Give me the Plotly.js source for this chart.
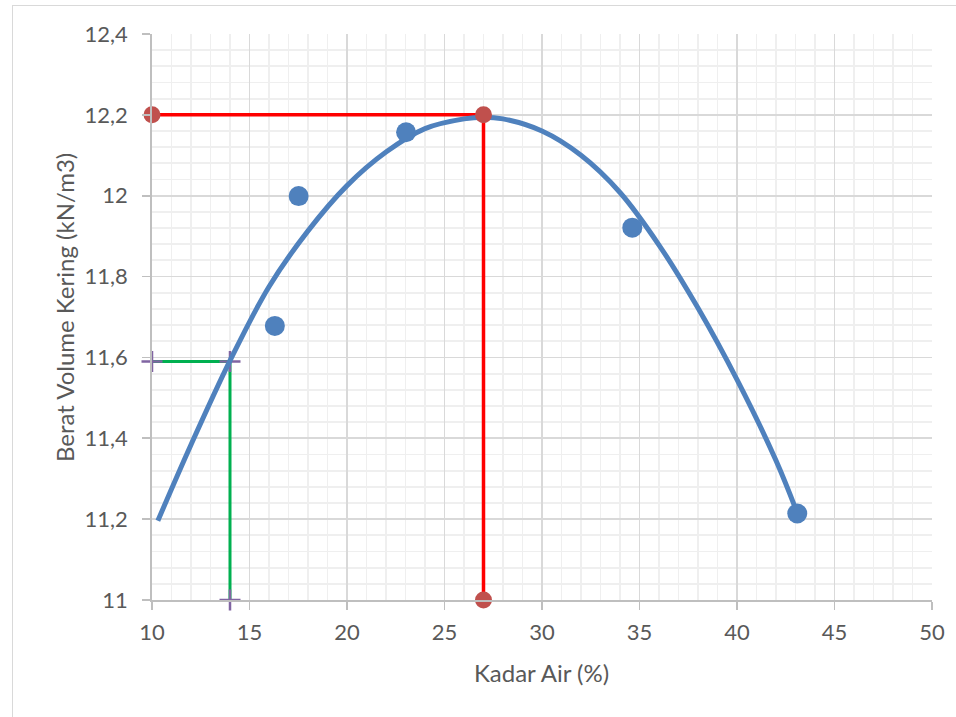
<!DOCTYPE html>
<html>
<head>
<meta charset="utf-8">
<script src="https://cdn.plot.ly/plotly-3.0.1.min.js"></script>
<style>
  html, body { margin: 0; padding: 0; background: #ffffff; overflow: hidden; }
  #wrap { position: relative; width: 956px; height: 717px; }
  #chart { width: 956px; height: 717px; }
  #frame { position: absolute; left: 12px; top: 5px; width: 2000px; height: 2000px;
           border: 1px solid #d9d9d9; pointer-events: none; }
</style>
</head>
<body>
<div id="wrap">
  <div id="chart"></div>
  <div id="frame"></div>
</div>
<script>
// Measured data points (Kadar Air %, Berat Volume Kering kN/m3)
const kadarAir = [16.3, 17.52, 23.03, 34.63, 43.09];
const beratVolume = [11.678, 11.999, 12.157, 11.921, 11.214];

// Trendline
const trendX = [10.3, 12, 14, 16, 18, 20, 22, 24, 26, 27, 28, 30, 32, 34, 36, 38, 40, 42, 43.1];
const trendY = [11.196, 11.384, 11.592, 11.775, 11.913, 12.025, 12.108, 12.166, 12.19, 12.194, 12.19, 12.16, 12.1, 12.008, 11.878, 11.722, 11.545, 11.345, 11.214];

// Maximum dry density guide (red)
const redLineX = [10, 27, 27];
const redLineY = [12.2, 12.2, 11];
const redMarkX = [10, 27, 27];
const redMarkY = [12.2, 12.2, 11];

// Guide at 14 % (green)
const greenLineX = [10, 14, 14];
const greenLineY = [11.59, 11.59, 11];
const purpleMarkX = [10, 14, 14];
const purpleMarkY = [11.59, 11.59, 11];

const xTicks = [10, 15, 20, 25, 30, 35, 40, 45, 50];
const yTicks = [11, 11.2, 11.4, 11.6, 11.8, 12, 12.2, 12.4];

const blue = '#4f81bd';
const txt = '#595959';
const fontFam = 'Lato, "Open Sans", sans-serif';

const traces = [
  { x: greenLineX, y: greenLineY, mode: 'lines', line: { color: '#00b050', width: 3 }, hoverinfo: 'skip', cliponaxis: false },
  { x: purpleMarkX, y: purpleMarkY, mode: 'markers', cliponaxis: false,
    marker: { symbol: 'cross-thin', size: 15, line: { color: '#8064a2', width: 2.5 } }, hoverinfo: 'skip' },
  { x: redLineX, y: redLineY, mode: 'lines', line: { color: '#ff0000', width: 3.5 }, hoverinfo: 'skip', cliponaxis: false },
  { x: trendX, y: trendY, mode: 'lines', line: { color: blue, width: 5, shape: 'spline', smoothing: 1 }, hoverinfo: 'skip' },
  { x: kadarAir, y: beratVolume, mode: 'markers', marker: { color: blue, size: 20 }, cliponaxis: false },
  { x: redMarkX, y: redMarkY, mode: 'markers', marker: { color: '#c0504d', size: 17 }, cliponaxis: false }
];

const layout = {
  width: 956, height: 717,
  margin: { l: 152, r: 24, t: 34, b: 117 },
  paper_bgcolor: '#ffffff', plot_bgcolor: '#ffffff',
  showlegend: false,
  separators: ',.',
  font: { family: fontFam, color: txt, size: 22 },
  xaxis: {
    range: [10, 50], tickvals: xTicks, ticktext: xTicks.map(String),
    showgrid: true, gridcolor: '#d9d9d9', gridwidth: 1.8,
    minor: { dtick: 1, tick0: 10, showgrid: true, gridcolor: '#efefef', gridwidth: 1.8, ticks: '' },
    showline: true, linecolor: '#bfbfbf', linewidth: 1.8,
    ticks: 'outside', ticklen: 8, tickcolor: '#bfbfbf', tickwidth: 1.8,
    ticklabelstandoff: 4,
    tickfont: { family: fontFam, size: 22, color: txt },
    zeroline: false, fixedrange: true
  },
  yaxis: {
    range: [11, 12.4], tickvals: yTicks,
    showgrid: true, gridcolor: '#d9d9d9', gridwidth: 1.8,
    minor: { dtick: 0.04, tick0: 11, showgrid: true, gridcolor: '#efefef', gridwidth: 1.8, ticks: '' },
    showline: true, linecolor: '#bfbfbf', linewidth: 1.8,
    ticks: 'outside', ticklen: 8, tickcolor: '#bfbfbf', tickwidth: 1.8,
    ticklabelstandoff: 10,
    tickfont: { family: fontFam, size: 22, color: txt },
    zeroline: false, fixedrange: true
  },
  annotations: [
    { text: 'Kadar Air (%)', xref: 'paper', yref: 'paper', x: (541 - 152) / 780, y: (600 - 672) / 566,
      xanchor: 'center', yanchor: 'middle', showarrow: false, font: { family: fontFam, size: 24, color: txt } },
    { text: 'Berat Volume Kering (kN/m3)', xref: 'paper', yref: 'paper', x: (64 - 152) / 780, y: (600 - 308) / 566,
      xanchor: 'center', yanchor: 'middle', textangle: -90, showarrow: false, font: { family: fontFam, size: 24, color: txt } }
  ]
};

Plotly.newPlot('chart', traces, layout, { displayModeBar: false, staticPlot: true });
</script>
</body>
</html>
